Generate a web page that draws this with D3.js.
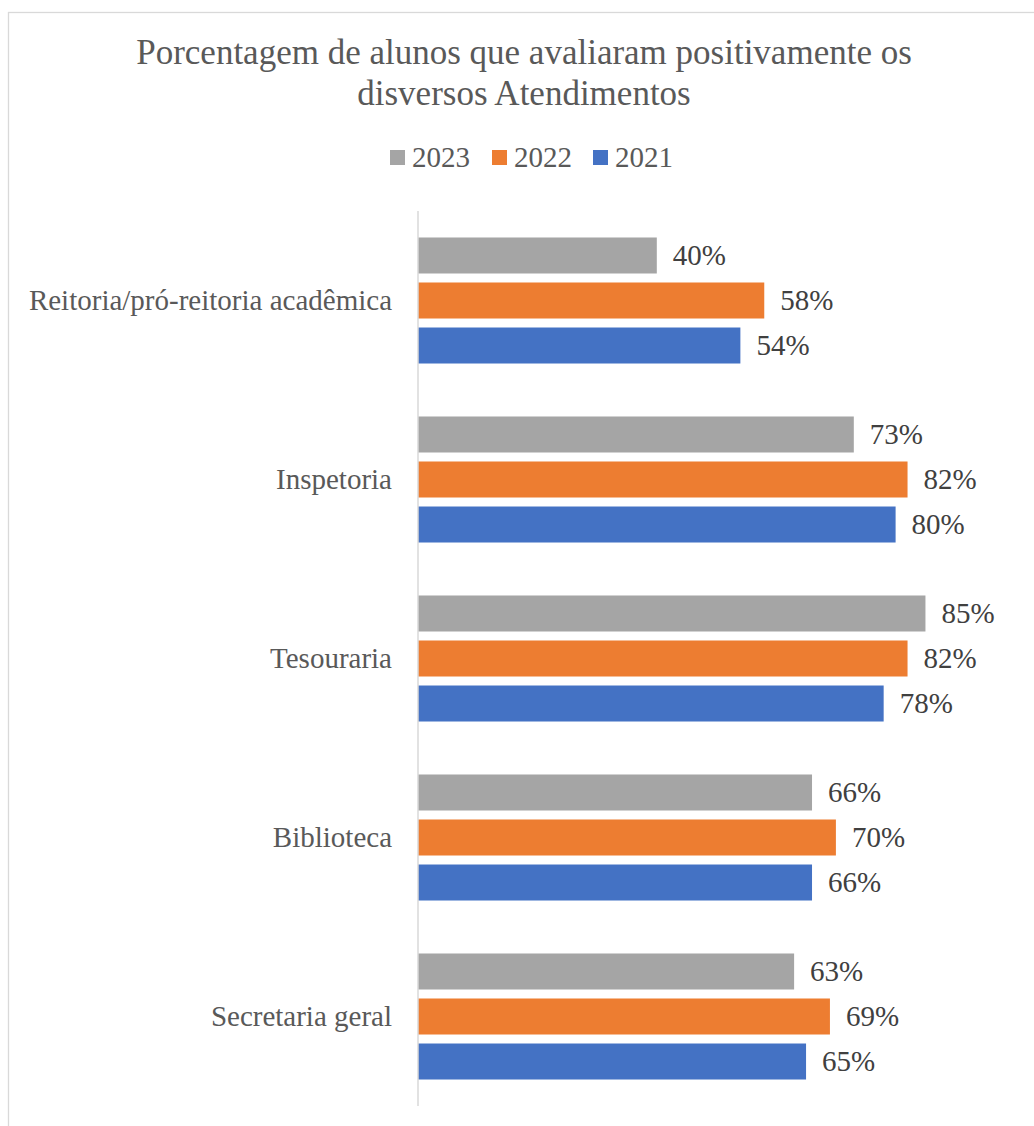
<!DOCTYPE html>
<html>
<head>
<meta charset="utf-8">
<script src="https://cdn.jsdelivr.net/npm/d3@7"></script>
<style>
  html, body { margin: 0; padding: 0; background: #fff; }
  svg { display: block; }
  text { font-family: "Liberation Serif", "Times New Roman", serif; }
</style>
</head>
<body>
<svg id="chart" width="1034" height="1126"></svg>
<script>
const titleLines = ["Porcentagem de alunos que avaliaram positivamente os", "disversos Atendimentos"];
const categories = ["Reitoria/pró-reitoria acadêmica", "Inspetoria", "Tesouraria", "Biblioteca", "Secretaria geral"];
const seriesNames = ["2023", "2022", "2021"];
const seriesColors = ["#A5A5A5", "#ED7D31", "#4472C4"];
const values2023 = [40, 73, 85, 66, 63];
const values2022 = [58, 82, 82, 70, 69];
const values2021 = [54, 80, 78, 66, 65];

const seriesValues = [values2023, values2022, values2021];
const rows = categories.map((c, i) => ({
  cat: c,
  vals: seriesNames.map((s, j) => ({ series: s, value: seriesValues[j][i], color: seriesColors[j] }))
}));

const svg = d3.select("#chart");

// chart border
svg.append("rect")
  .attr("x", 8.5).attr("y", 12.5)
  .attr("width", 1200).attr("height", 1300)
  .attr("fill", "#fff").attr("stroke", "#D9D9D9").attr("stroke-width", 1.3);

// title
svg.append("text")
  .attr("x", 524).attr("y", 64)
  .attr("text-anchor", "middle")
  .attr("fill", "#595959")
  .style("font-size", "35px")
  .selectAll("tspan").data(titleLines).join("tspan")
  .attr("x", 524)
  .attr("dy", (d, i) => i === 0 ? 0 : 41)
  .text(d => d);

// legend
const legendX = [390, 492, 593];
const legend = svg.append("g");
seriesNames.forEach((s, i) => {
  legend.append("rect")
    .attr("x", legendX[i]).attr("y", 150)
    .attr("width", 15).attr("height", 15)
    .attr("fill", seriesColors[i]);
  legend.append("text")
    .attr("x", legendX[i] + 22).attr("y", 167)
    .attr("fill", "#595959")
    .style("font-size", "29px")
    .text(s);
});

// scales
const x = d3.scaleLinear().domain([0, 100]).range([418, 1015]);
const y = d3.scaleBand().domain(categories).range([211, 1106])
  .paddingInner(0.296).paddingOuter(0.148);
const yInner = d3.scaleBand().domain(seriesNames).range([0, y.bandwidth()])
  .paddingInner(0.2).paddingOuter(0);

const groups = svg.append("g").selectAll("g").data(rows).join("g")
  .attr("transform", d => `translate(0,${y(d.cat)})`);

groups.selectAll("rect").data(d => d.vals).join("rect")
  .attr("x", x(0))
  .attr("y", d => yInner(d.series))
  .attr("width", d => x(d.value) - x(0))
  .attr("height", yInner.bandwidth())
  .attr("fill", d => d.color);

groups.selectAll("text.val").data(d => d.vals).join("text")
  .attr("class", "val")
  .attr("x", d => x(d.value) + 16)
  .attr("y", d => yInner(d.series) + yInner.bandwidth() / 2)
  .attr("dy", "0.33em")
  .attr("fill", "#404040")
  .style("font-size", "29px")
  .text(d => d.value + "%");

// y axis
const yAxis = d3.axisLeft(y).tickSize(0).tickPadding(26);
const gy = svg.append("g").attr("transform", `translate(${x(0)},0)`).call(yAxis);
gy.attr("font-family", null).attr("font-size", null);
gy.select(".domain").attr("stroke", "#D9D9D9").attr("stroke-width", 1.5)
  .attr("d", `M0,${y.range()[0]}V${y.range()[1]}`);
gy.selectAll(".tick text")
  .attr("fill", "#595959")
  .style("font-size", "29px")
  .attr("dy", "0.33em");
</script>
</body>
</html>
